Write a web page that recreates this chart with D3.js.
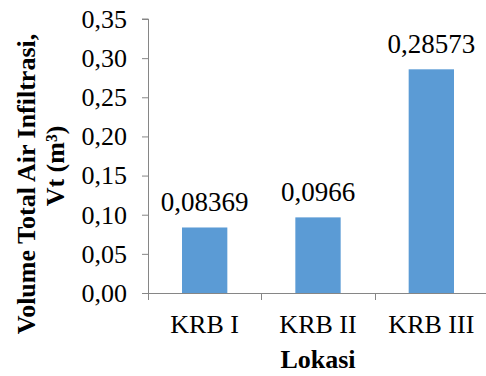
<!DOCTYPE html>
<html>
<head>
<meta charset="utf-8">
<script src="https://cdn.jsdelivr.net/npm/d3@7"></script>
<style>
  html, body { margin: 0; padding: 0; background: #fff; }
  svg { display: block; }
  svg text { font-family: "Liberation Serif", "Times New Roman", serif !important; }
</style>
</head>
<body>
<svg id="chart" width="486" height="376"></svg>
<script>
// Total infiltration volume per location
const categories = ["KRB I", "KRB II", "KRB III"];
const values = [0.08369, 0.0966, 0.28573];
const valueLabels = ["0,08369", "0,0966", "0,28573"];
const yTicks = [0, 0.05, 0.10, 0.15, 0.20, 0.25, 0.30, 0.35];
const yTitleLines = ["Volume Total Air Infiltrasi,", "Vt (m³)"];
const xTitle = "Lokasi";

const svg = d3.select("#chart");
const axisColor = "#868686";
const barColor = "#5B9BD5";

const x = d3.scaleBand()
  .domain(categories)
  .range([148, 488])
  .paddingInner(0.6)
  .paddingOuter(0.3);

const y = d3.scaleLinear()
  .domain([0, 0.35])
  .range([293, 19]);

// bars
svg.append("g")
  .selectAll("rect")
  .data(values)
  .join("rect")
  .attr("x", (d, i) => x(categories[i]))
  .attr("y", d => y(d))
  .attr("width", x.bandwidth())
  .attr("height", d => y(0) - y(d))
  .attr("fill", barColor);

// value labels
svg.append("g")
  .selectAll("text")
  .data(values)
  .join("text")
  .attr("x", (d, i) => x(categories[i]) + x.bandwidth() / 2)
  .attr("y", d => y(d) - 16)
  .attr("text-anchor", "middle")
  .attr("font-size", 27)
  .attr("fill", "#000")
  .text((d, i) => valueLabels[i]);

// y axis
const yAxis = svg.append("g")
  .attr("transform", "translate(148,0)")
  .call(d3.axisLeft(y)
    .tickValues(yTicks)
    .tickSize(6)
    .tickPadding(15)
    .tickFormat(d => d3.format(".2f")(d).replace(".", ",")));
yAxis.select(".domain").attr("stroke", axisColor).attr("d", `M-6,${y(0.35)}H0.5V${y(0)}`);
yAxis.selectAll(".tick line").attr("stroke", axisColor);
yAxis.selectAll(".tick text")
  .attr("font-size", 26)
  .attr("fill", "#000");

// x axis with ticks at band boundaries
const xAxisG = svg.append("g").attr("transform", `translate(0,${y(0)})`);
const step = x.step();
const x0 = x.range()[0];
xAxisG.append("line")
  .attr("x1", x0).attr("x2", x.range()[1])
  .attr("y1", 0.5).attr("y2", 0.5)
  .attr("stroke", axisColor);
xAxisG.selectAll("line.tick")
  .data(d3.range(categories.length + 1))
  .join("line")
  .attr("class", "tick")
  .attr("x1", i => Math.round(x0 + i * step) + 0.5)
  .attr("x2", i => Math.round(x0 + i * step) + 0.5)
  .attr("y1", 0).attr("y2", 7)
  .attr("stroke", axisColor);
xAxisG.selectAll("text")
  .data(categories)
  .join("text")
  .attr("x", d => x(d) + x.bandwidth() / 2)
  .attr("y", 40)
  .attr("text-anchor", "middle")
  .attr("font-size", 26)
  .attr("fill", "#000")
  .text(d => d);

// axis titles
svg.append("text")
  .attr("x", (x.range()[0] + x.range()[1]) / 2)
  .attr("y", 368)
  .attr("text-anchor", "middle")
  .attr("font-size", 26)
  .attr("font-weight", "bold")
  .text(xTitle);

const titlePos = [[35, 184], [64, 166]];
svg.append("g")
  .selectAll("text")
  .data(yTitleLines)
  .join("text")
  .attr("transform", (d, i) => `translate(${titlePos[i][0]},${titlePos[i][1]}) rotate(-90)`)
  .attr("text-anchor", "middle")
  .attr("font-size", 26)
  .attr("font-weight", "bold")
  .text(d => d);
</script>
</body>
</html>
